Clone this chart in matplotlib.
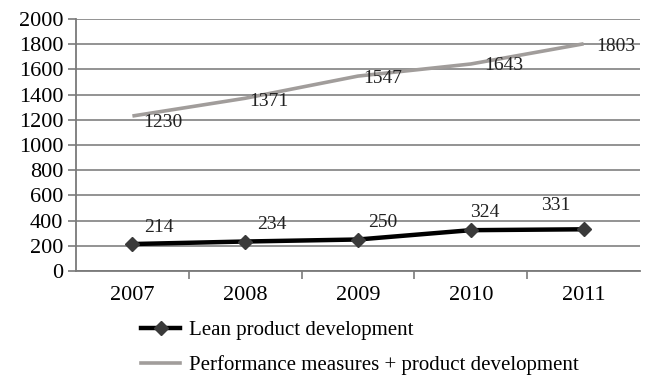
"""
Lean product development vs performance measures - line chart recreation.
"""

import matplotlib
matplotlib.use('Agg')
from matplotlib import pyplot as plt
from matplotlib.lines import Line2D


YEARS = ['2007', '2008', '2009', '2010', '2011']
LEAN = [214, 234, 250, 324, 331]
PERF = [1230, 1371, 1547, 1643, 1803]

# label offsets in points (dx, dy)
LEAN_OFFSETS = [(19, 12), (19, 12), (18, 12), (10, 13), (-20, 17)]
PERF_OFFSETS = [(22, -5), (17, -2), (18, -2), (24, -1), (23, -2)]


def main():
    plt.rcParams['font.family'] = ['Liberation Serif', 'DejaVu Serif']
    fig = plt.figure(figsize=(6.51, 3.76), dpi=100)
    ax = fig.add_axes([76 / 651, 1 - 271 / 376, 564 / 651, 252 / 376])

    x = list(range(len(YEARS)))
    ax.plot(x, PERF, color='#a19d9b', lw=2.6, solid_capstyle='butt', zorder=3)
    ax.plot(x, LEAN, color='black', lw=3.2, marker='D', ms=7,
            mfc='#3a3a3a', mec='#3a3a3a', zorder=4)

    for xi, v, (dx, dy) in zip(x, LEAN, LEAN_OFFSETS):
        ax.annotate(str(v), (xi, v), xytext=(dx, dy), textcoords='offset points',
                    ha='center', va='center', fontsize=14, color='#222222')
    for xi, v, (dx, dy) in zip(x, PERF, PERF_OFFSETS):
        ax.annotate(str(v), (xi, v), xytext=(dx, dy), textcoords='offset points',
                    ha='center', va='center', fontsize=14, color='#222222', zorder=5)

    ax.set_xlim(-0.5, 4.5)
    ax.set_ylim(0, 2000)
    ax.set_yticks(range(0, 2001, 200))
    ax.set_xticks(x)
    ax.set_xticklabels(YEARS)
    ax.set_xticks([0.5, 1.5, 2.5, 3.5], minor=True)
    ax.tick_params(axis='x', which='major', length=0, pad=11, labelsize=16)
    ax.tick_params(axis='x', which='minor', length=6, width=1.2, color='#7a7a7a')
    ax.tick_params(axis='y', length=6, width=1.2, color='#7a7a7a', labelsize=16, pad=3)
    ax.yaxis.grid(True, color='#8a8a8a', lw=1.3)
    ax.set_axisbelow(True)
    for side in ['top', 'right']:
        ax.spines[side].set_visible(False)
    for side in ['left', 'bottom']:
        ax.spines[side].set_color('#7a7a7a')
        ax.spines[side].set_linewidth(1.3)

    handles = [
        Line2D([], [], color='black', lw=3.2, marker='D', ms=7,
               mfc='#3a3a3a', mec='#3a3a3a'),
        Line2D([], [], color='#a19d9b', lw=2.6),
    ]
    fig.legend(handles, ['Lean product development',
                         'Performance measures + product development'],
               loc='upper left', bbox_to_anchor=(122 / 651, 1 - 302 / 376),
               frameon=False, fontsize=15, handlelength=1.9,
               labelspacing=0.72, handletextpad=0.4)

    fig.savefig('out.png', dpi=100)


if __name__ == "__main__":
    main()
